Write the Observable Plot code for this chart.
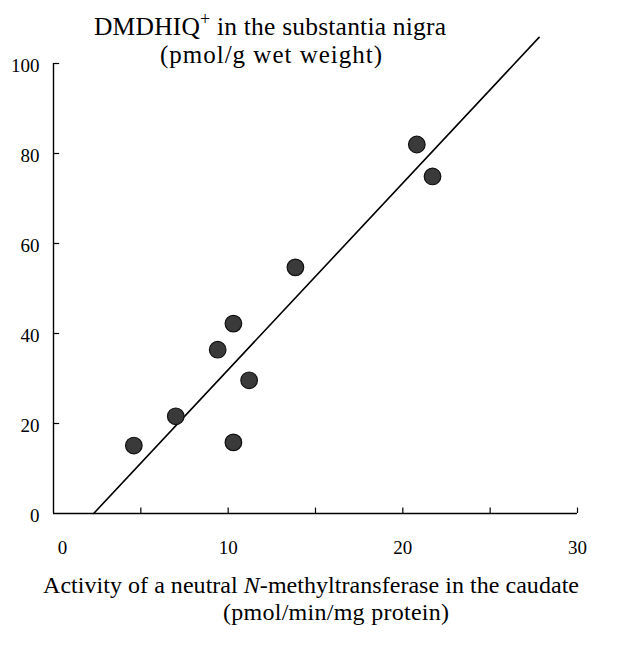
<!DOCTYPE html>
<html><head><meta charset="utf-8">
<script src="https://cdn.jsdelivr.net/npm/d3@7"></script>
<script src="https://cdn.jsdelivr.net/npm/@observablehq/plot@0.6"></script>
<style>body{margin:0;background:#fff} #chart{width:623px;height:646px}</style>
</head><body><div id="chart"></div>
<script>
// Data
const activity = [4.6, 7.0, 9.4, 10.3, 10.3, 11.2, 13.85, 20.8, 21.7];
const dmdhiq   = [15.1, 21.6, 36.4, 42.2, 15.8, 29.6, 54.7, 82.0, 74.9];
const fitX = [2.3, 27.8];
const fitY = [0, 105.8];
const xTickLabels = [10, 20, 30];
const xZeroLabel = [0];
const xTicks = [5, 10, 15, 20, 25, 30];
const yTickLabels = [0, 20, 40, 60, 80, 100];
const yTicks = [20, 40, 60, 80, 100];

const points = activity.map((x, i) => ({x, y: dmdhiq[i]}));
const fit = fitX.map((x, i) => ({x, y: fitY[i]}));

const font = "'Liberation Serif', 'Times New Roman', serif";
const chart = Plot.plot({
  width: 623, height: 646,
  marginLeft: 53, marginRight: 46, marginTop: 63, marginBottom: 133,
  x: {domain: [0, 30], label: null},
  y: {domain: [0, 100], label: null},
  style: {fontFamily: font, fontSize: "19px", background: "white", color: "black"},
  marks: [
    Plot.ruleY([0], {x1: 0, x2: 30, stroke: "black", strokeWidth: 1.4}),
    Plot.ruleX([0], {y1: 0, y2: 100, stroke: "black", strokeWidth: 1.4}),
    Plot.ruleX(xTicks, {y1: 0, y2: 1.2, stroke: "black", strokeWidth: 1.2}),
    Plot.ruleY(yTicks, {x1: 0, x2: 0.35, stroke: "black", strokeWidth: 1.2}),
    Plot.axisX({ticks: xTickLabels, tickSize: 0, tickPadding: 27, fontSize: 19}),
    Plot.axisX({ticks: xZeroLabel, tickSize: 0, tickPadding: 27, fontSize: 19, dx: 9}),
    Plot.axisY({ticks: yTickLabels, tickSize: 0, tickPadding: 14, fontSize: 19, dy: 2}),
    Plot.line(fit, {x: "x", y: "y", stroke: "black", strokeWidth: 1.6, clip: false}),
    Plot.dot(points, {x: "x", y: "y", r: 8.3, fill: "#3a3a3a", stroke: "#111", strokeWidth: 1.2})
  ]
});
document.getElementById("chart").appendChild(chart);

const svg = d3.select(chart);
function txt(x, y, len, size) {
  return svg.append("text").attr("x", x).attr("y", y).attr("text-anchor", "middle")
    .attr("font-family", font).attr("font-size", size).attr("fill", "black")
    .attr("textLength", len).attr("lengthAdjust", "spacing");
}
const t1 = txt(270, 35, 352, 25.5);
t1.append("tspan").text("DMDHIQ");
t1.append("tspan").attr("baseline-shift", "super").attr("font-size", 18).text("+");
t1.append("tspan").attr("baseline-shift", "0").text(" in the substantia nigra");
txt(271, 63, 222, 25).text("(pmol/g wet weight)");

const b1 = txt(311, 593, 536, 24);
b1.append("tspan").text("Activity of a neutral ");
b1.append("tspan").attr("font-style", "italic").text("N");
b1.append("tspan").text("-methyltransferase in the caudate");
txt(336, 620, 226, 24).text("(pmol/min/mg protein)");
</script>
</body></html>
